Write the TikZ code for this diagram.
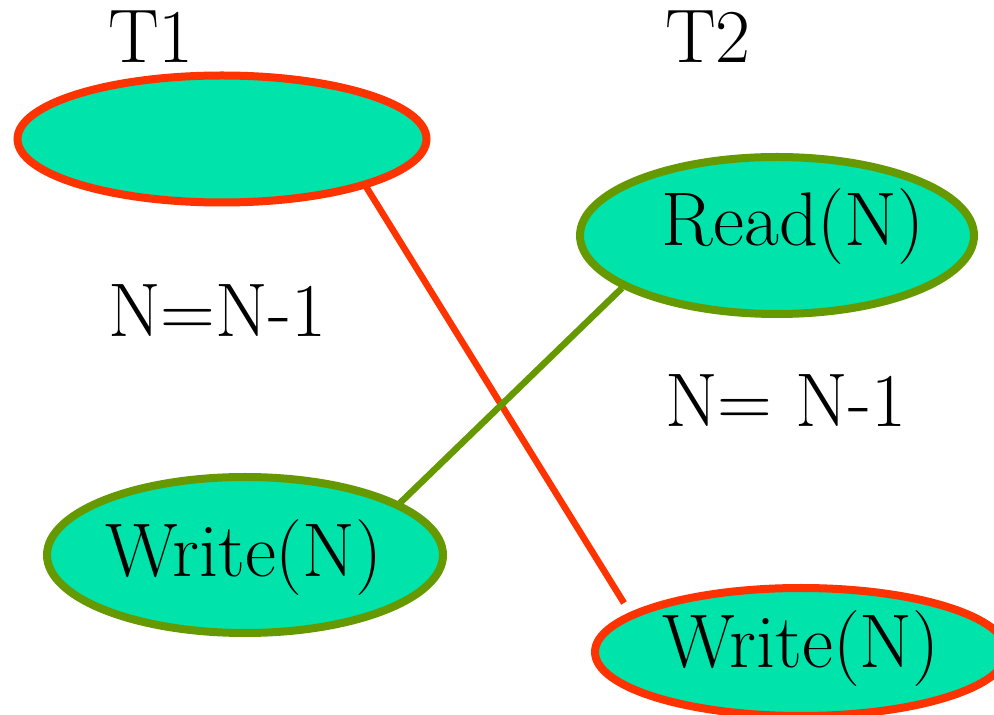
\documentclass[tikz,border=0pt]{standalone}
\usepackage{fontspec}
\newfontfamily\timesf{Latin Modern Roman}
\usetikzlibrary{shapes.geometric}
\definecolor{fillg}{RGB}{0,227,170}
\definecolor{redb}{RGB}{255,51,0}
\definecolor{greenb}{RGB}{102,153,0}
\tikzset{
  ell/.style={ellipse, fill=fillg, line width=8pt, inner sep=0pt},
  redell/.style={ell, draw=redb},
  greenell/.style={ell, draw=greenb},
  txt/.style={inner sep=0pt, font=\timesf\fontsize{76}{80}\selectfont},
  redline/.style={draw=redb, line width=6.5pt},
  greenline/.style={draw=greenb, line width=6.5pt}
}
\begin{document}
\begin{tikzpicture}[x=1pt,y=1pt]
\useasboundingbox (0,0) rectangle (994,715);
% ellipses
\node[redell, minimum width=409pt, minimum height=127pt] (e1) at (222,576) {};
\node[greenell, minimum width=394pt, minimum height=157pt] (e2) at (777,479.5) {};
\node[greenell, minimum width=396pt, minimum height=156pt] (e3) at (245,160) {};
\node[redell, minimum width=412pt, minimum height=128pt] (e4) at (801,63) {};
% texts
\node[txt, anchor=base west] (t1) at (108,652) {T1};
\node[txt, anchor=base west] (t2) at (665,652) {T2};
\node[txt, anchor=base west] (n1) at (108,378) {N=N-1};
\node[txt, anchor=base west] (n2) at (665,288) {N= N-1};
\node[txt, anchor=base] (read) at (793,469) {Read(N)};
\node[txt, anchor=base] (w1) at (244,138) {Write(N)};
\node[txt, anchor=base] (w2) at (801,47) {Write(N)};
% connectors
\coordinate (r1) at (365,530);
\coordinate (r2) at (624,112);
\coordinate (g1) at (400,212);
\coordinate (g2) at (622,427);
\draw[redline] (r1) -- (r2);
\draw[greenline] (g1) -- (g2);
\end{tikzpicture}
\end{document}
